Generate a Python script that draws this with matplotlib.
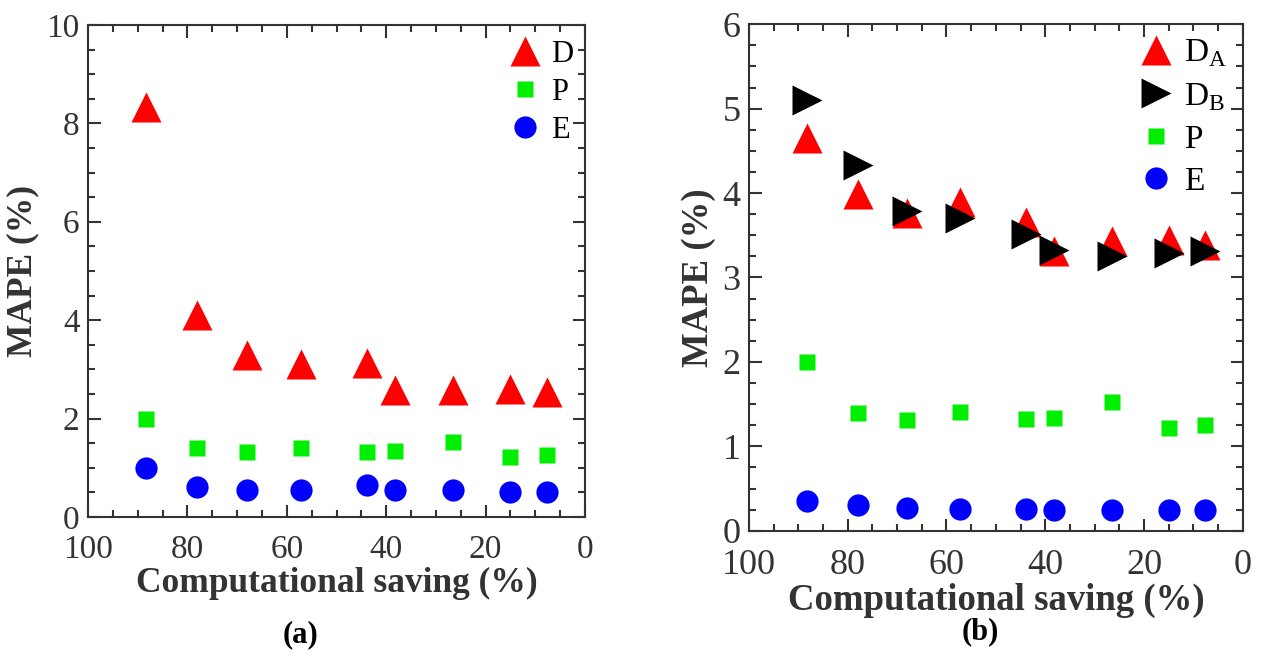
import numpy as np
import matplotlib
matplotlib.use("Agg")
import matplotlib.pyplot as plt
from matplotlib.ticker import MultipleLocator

plt.rcParams["font.family"] = ["Liberation Serif", "DejaVu Serif"]
plt.rcParams["mathtext.fontset"] = "custom"
plt.rcParams["mathtext.rm"] = "Liberation Serif"

# computational saving (%) - same for both panels
saving = [88.3, 78.0, 68.0, 57.2, 43.8, 38.2, 26.5, 15.0, 7.7]

# panel (a)
a_D = [8.33, 4.10, 3.29, 3.10, 3.12, 2.59, 2.59, 2.61, 2.53]
a_P = [2.00, 1.40, 1.32, 1.40, 1.32, 1.34, 1.52, 1.21, 1.26]
a_E = [0.99, 0.61, 0.54, 0.54, 0.64, 0.55, 0.54, 0.50, 0.51]

# panel (b)
b_DA = [4.65, 3.99, 3.76, 3.90, 3.66, 3.31, 3.43, 3.45, 3.38]
b_DB = [5.10, 4.33, 3.79, 3.71, 3.52, 3.33, 3.25, 3.29, 3.31]
b_P = [2.00, 1.40, 1.31, 1.41, 1.32, 1.33, 1.52, 1.22, 1.25]
b_E = [0.35, 0.31, 0.27, 0.26, 0.26, 0.25, 0.25, 0.25, 0.25]

dark = "#333333"


def style_axes(ax, ymax, ymajor, yminor, tsize, lsize, xpad):
    ax.set_xlim(100, 0)
    ax.set_ylim(0, ymax)
    ax.xaxis.set_major_locator(MultipleLocator(20))
    ax.xaxis.set_minor_locator(MultipleLocator(5))
    ax.yaxis.set_major_locator(MultipleLocator(ymajor))
    ax.yaxis.set_minor_locator(MultipleLocator(yminor))
    ax.tick_params(which="both", direction="in", top=True, right=True,
                   colors=dark, labelsize=tsize, width=1.5)
    ax.tick_params(which="major", length=9)
    ax.tick_params(which="minor", length=5)
    ax.tick_params(axis="x", which="major", pad=xpad)
    ax.tick_params(axis="y", which="major", pad=6)
    for sp in ax.spines.values():
        sp.set_color(dark)
        sp.set_linewidth(1.5)
    ax.set_xlabel("Computational saving (%)", fontsize=lsize, fontweight="bold",
                  color=dark, labelpad=1)
    ax.set_ylabel("MAPE (%)", fontsize=lsize, fontweight="bold", color=dark,
                  labelpad=5)


fig = plt.figure(figsize=(12.63, 6.56), dpi=100)

ax1 = fig.add_axes([0.0697, 0.212, 0.3935, 0.750])
ax1.plot(saving, a_D, "^", color="red", ms=21, mec="none", label="D")
ax1.plot(saving, a_P, "s", color="#00ee00", ms=12, mec="none", label="P")
ax1.plot(saving, a_E, "o", color="blue", ms=16, mec="none", label="E")
style_axes(ax1, 10, 2, 0.5, 24, 25.5, 13)
ax1.legend(loc="upper right", frameon=False, fontsize=22, handletextpad=0.1,
           borderaxespad=0.0, labelspacing=0.3, handlelength=1.5,
           bbox_to_anchor=(1.0, 0.995))

ax2 = fig.add_axes([0.593, 0.191, 0.391, 0.772])
ax2.plot(saving, b_DA, "^", color="red", ms=21, mec="none", label=r"D$_\mathrm{A}$")
ax2.plot(saving, b_DB, ">", color="black", ms=21, mec="none", label=r"D$_\mathrm{B}$")
ax2.plot(saving, b_P, "s", color="#00ee00", ms=12, mec="none", label="P")
ax2.plot(saving, b_E, "o", color="blue", ms=16, mec="none", label="E")
style_axes(ax2, 6, 1, 0.25, 26, 26.5, 13)
ax2.legend(loc="upper right", frameon=False, fontsize=24, handletextpad=0.1,
           borderaxespad=0.0, labelspacing=0.35, handlelength=1.5,
           bbox_to_anchor=(0.995, 1.0))

fig.text(0.238, 0.032, "(a)", fontsize=22, fontweight="bold", ha="center",
         va="center")
fig.text(0.776, 0.037, "(b)", fontsize=22, fontweight="bold", ha="center",
         va="center")

fig.savefig("out.png", dpi=100)
